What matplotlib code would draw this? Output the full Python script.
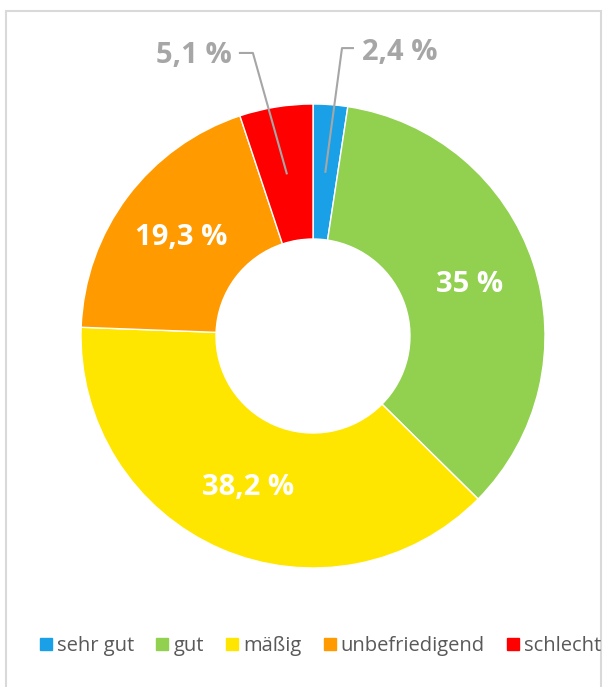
import numpy as np
import matplotlib.pyplot as plt
from matplotlib.lines import Line2D
from matplotlib.patches import Rectangle

# data
categories = ['sehr gut', 'gut', 'mäßig', 'unbefriedigend', 'schlecht']
values = [2.4, 35, 38.2, 19.3, 5.1]
value_labels = ['2,4 %', '35 %', '38,2 %', '19,3 %', '5,1 %']
colors = ['#1aa0e6', '#92d050', '#ffe600', '#ff9a00', '#ff0000']

plt.rcParams['font.family'] = ['Open Sans', 'DejaVu Sans']

W, H = 608, 687
fig = plt.figure(figsize=(W / 100, H / 100), dpi=100)

# light frame round the chart
fig.patches.append(Rectangle((6 / W, -0.01), 595 / W, 1 - 11 / H + 0.01,
                             transform=fig.transFigure, fill=False,
                             edgecolor='#d9d9d9', linewidth=1.5))

cx, cy, R = 313, 336, 232
ax = fig.add_axes([(cx - R) / W, 1 - (cy + R) / H, 2 * R / W, 2 * R / H])

wedges, _ = ax.pie(values, colors=colors, startangle=90, counterclock=False,
                   radius=1, wedgeprops=dict(width=0.582, edgecolor='white', linewidth=1))
ax.set_xlim(-1, 1)
ax.set_ylim(-1, 1)
ax.axis('off')

r_lab = 0.71
gray = '#a6a6a6'
for i, w in enumerate(wedges):
    mid = np.deg2rad((w.theta1 + w.theta2) / 2)
    x, y = r_lab * np.cos(mid), r_lab * np.sin(mid)
    if values[i] > 10:
        ax.text(x, y, value_labels[i], ha='center', va='center', color='white',
                fontsize=21, fontweight='bold')
    else:
        # small slices: label outside with leader line
        if np.cos(mid) > 0:
            ex, ey, hx = 0.125, 1.241, 0.172
            ax.text(0.211, 1.224, value_labels[i], ha='left', va='center',
                    color=gray, fontsize=21, fontweight='bold')
        else:
            ex, ey, hx = -0.259, 1.22, -0.315
            ax.text(-0.349, 1.211, value_labels[i], ha='right', va='center',
                    color=gray, fontsize=21, fontweight='bold')
        ax.plot([x, ex, hx], [y, ey, ey], color=gray, linewidth=1.5, clip_on=False)

handles = [Line2D([], [], marker='s', linestyle='', markersize=8,
                  markerfacecolor=c, markeredgecolor=c) for c in colors]
fig.legend(handles, categories, loc='center', ncol=5, frameon=False,
           bbox_to_anchor=(321 / W, 1 - 646 / H), fontsize=14.5,
           handlelength=0.5, handletextpad=0.3, columnspacing=1.15,
           labelcolor='#595959')

fig.savefig('out.png', dpi=100)
